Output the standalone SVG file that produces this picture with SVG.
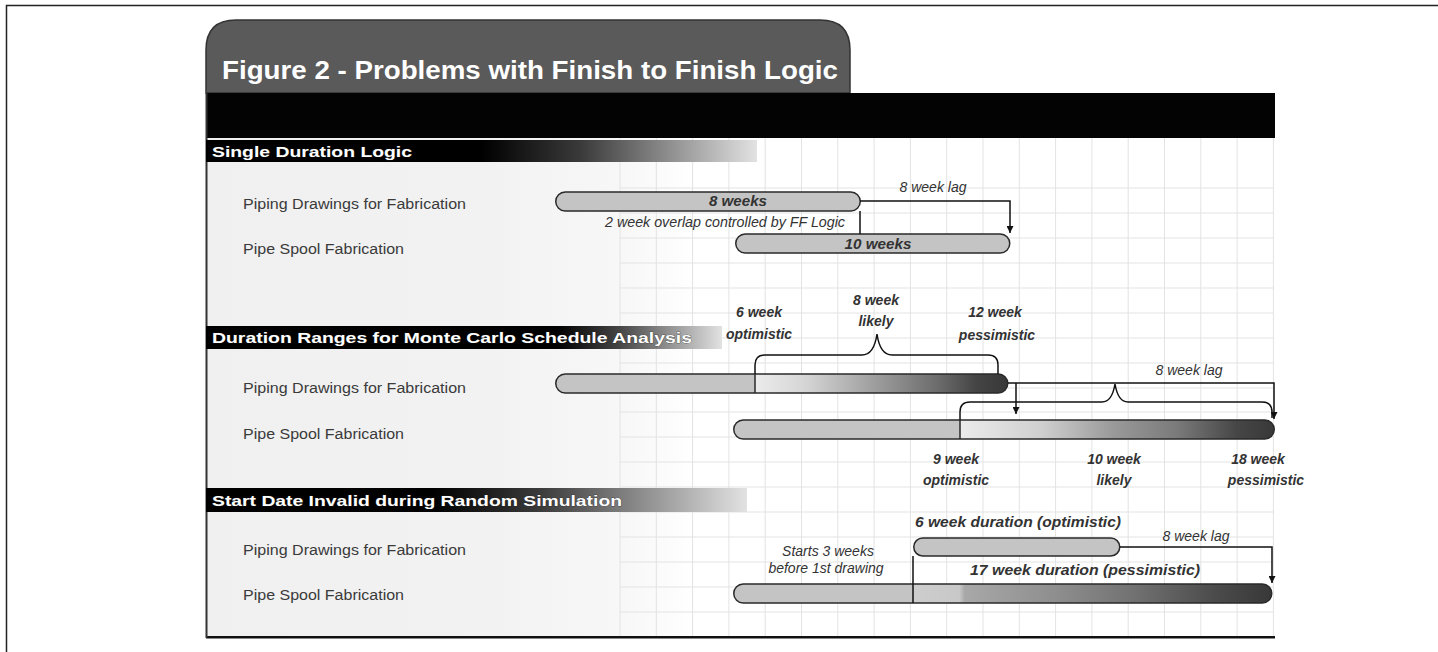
<svg xmlns="http://www.w3.org/2000/svg" width="1438" height="652" viewBox="0 0 1438 652">
<defs>
<style>
.lbl{font-family:"Liberation Sans",Arial,sans-serif;font-size:15.5px;fill:#3a3a3a}
.hdr{font-family:"Liberation Sans",Arial,sans-serif;font-size:15px;font-weight:bold;fill:#fff;stroke:#222;stroke-width:0.5;paint-order:stroke}
.it{font-family:"Liberation Sans",Arial,sans-serif;font-size:14px;font-style:italic;fill:#333;text-anchor:middle}
.bi{font-family:"Liberation Sans",Arial,sans-serif;font-size:14px;font-style:italic;font-weight:bold;fill:#333;text-anchor:middle}
.bar{stroke:#2a2a2a;stroke-width:1.5}
.con{fill:none;stroke:#111;stroke-width:1.5}
.grid{fill:none;stroke:#e3e3e3;stroke-width:1}
</style>
<linearGradient id="bg" gradientUnits="userSpaceOnUse" x1="206" y1="0" x2="1275" y2="0">
<stop offset="0" stop-color="#f0f0f0"/><stop offset="0.262" stop-color="#f2f2f2"/><stop offset="0.387" stop-color="#f7f7f7"/><stop offset="0.46" stop-color="#fff"/><stop offset="1" stop-color="#fff"/>
</linearGradient>
<linearGradient id="h1" gradientUnits="userSpaceOnUse" x1="206" y1="0" x2="757" y2="0">
<stop offset="0" stop-color="#000"/><stop offset="0.5" stop-color="#000"/><stop offset="0.68" stop-color="#3a3a3a"/><stop offset="1" stop-color="#e2e2e2"/>
</linearGradient>
<linearGradient id="h2" gradientUnits="userSpaceOnUse" x1="206" y1="0" x2="722" y2="0">
<stop offset="0" stop-color="#000"/><stop offset="0.68" stop-color="#000"/><stop offset="0.8" stop-color="#444"/><stop offset="1" stop-color="#e2e2e2"/>
</linearGradient>
<linearGradient id="h3" gradientUnits="userSpaceOnUse" x1="206" y1="0" x2="747" y2="0">
<stop offset="0" stop-color="#000"/><stop offset="0.42" stop-color="#000"/><stop offset="0.62" stop-color="#3c3c3c"/><stop offset="1" stop-color="#e2e2e2"/>
</linearGradient>
<linearGradient id="gA" gradientUnits="userSpaceOnUse" x1="555" y1="0" x2="1008" y2="0">
<stop offset="0" stop-color="#c4c4c4"/><stop offset="0.441" stop-color="#c4c4c4"/><stop offset="0.443" stop-color="#ebebeb"/><stop offset="0.55" stop-color="#d6d6d6"/><stop offset="0.7" stop-color="#a0a0a0"/><stop offset="0.85" stop-color="#6a6a6a"/><stop offset="0.93" stop-color="#444"/><stop offset="1" stop-color="#383838"/>
</linearGradient>
<linearGradient id="gB" gradientUnits="userSpaceOnUse" x1="733" y1="0" x2="1275" y2="0">
<stop offset="0" stop-color="#c4c4c4"/><stop offset="0.418" stop-color="#c4c4c4"/><stop offset="0.42" stop-color="#ebebeb"/><stop offset="0.57" stop-color="#cfcfcf"/><stop offset="0.7" stop-color="#9a9a9a"/><stop offset="0.82" stop-color="#7a7a7a"/><stop offset="0.93" stop-color="#464646"/><stop offset="1" stop-color="#383838"/>
</linearGradient>
<linearGradient id="gD" gradientUnits="userSpaceOnUse" x1="733" y1="0" x2="1272" y2="0">
<stop offset="0" stop-color="#c4c4c4"/><stop offset="0.333" stop-color="#c4c4c4"/><stop offset="0.335" stop-color="#cdcdcd"/><stop offset="0.42" stop-color="#c8c8c8"/><stop offset="0.43" stop-color="#a8a8a8"/><stop offset="0.6" stop-color="#8e8e8e"/><stop offset="0.75" stop-color="#707070"/><stop offset="0.9" stop-color="#4a4a4a"/><stop offset="1" stop-color="#383838"/>
</linearGradient>
<marker id="arr" viewBox="0 0 10 10" refX="10" refY="5" markerWidth="8" markerHeight="7" orient="auto" markerUnits="userSpaceOnUse">
<path d="M0,0 L10,5 L0,10 Z" fill="#111"/>
</marker>
<clipPath id="clipR"><rect x="0" y="0" width="1308" height="652"/></clipPath>
</defs>
<rect width="1438" height="652" fill="#fff"/>
<path d="M6.5,652 V5.5 H1438" fill="none" stroke="#222" stroke-width="1.5"/>

<g id="frame">
<path d="M206,93 V50 Q206,20 236,20 H820 Q850,20 850,50 V93 Z" fill="#5a5a5a" stroke="#333" stroke-width="1.5"/>
<text x="222" y="79" font-family="'Liberation Sans',Arial,sans-serif" font-size="26" font-weight="bold" fill="#fff" textLength="616" lengthAdjust="spacingAndGlyphs">Figure 2 - Problems with Finish to Finish Logic</text>
<rect x="206" y="93" width="1069" height="45" fill="#030303"/>
<rect x="206" y="138" width="1069" height="498" fill="url(#bg)"/>
<path class="grid" d="M620,138V636M656.3,138V636M692.6,138V636M728.9,138V636M765.2,138V636M801.5,138V636M837.8,138V636M874.1,138V636M910.4,138V636M946.7,138V636M983,138V636M1019.3,138V636M1055.6,138V636M1091.9,138V636M1128.2,138V636M1164.5,138V636M1200.8,138V636M1237.1,138V636M1273.4,138V636M620,188H1273M620,213H1273M620,238H1273M620,263H1273M620,288H1273M620,313H1273M620,338H1273M620,363H1273M620,388H1273M620,412H1273M620,437H1273M620,462H1273M620,487H1273M620,512H1273M620,537H1273M620,562H1273M620,587H1273M620,612H1273"/>
<rect x="206" y="636" width="1069" height="2.5" fill="#111"/>
<line x1="206.5" y1="93" x2="206.5" y2="638" stroke="#333" stroke-width="2"/>
</g>

<g id="section1">
<rect x="206" y="140" width="551" height="22" fill="url(#h1)"/>
<text class="hdr" x="212" y="157" textLength="200" lengthAdjust="spacingAndGlyphs">Single Duration Logic</text>
<text class="lbl" x="243" y="209" textLength="223" lengthAdjust="spacingAndGlyphs">Piping Drawings for Fabrication</text>
<text class="lbl" x="243" y="254" textLength="161" lengthAdjust="spacingAndGlyphs">Pipe Spool Fabrication</text>
</g>
<g id="bar1">
<rect class="bar" x="555.75" y="192" width="304.5" height="19" rx="9.5" fill="#c4c4c4"/>
<text class="bi" x="738" y="206" textLength="58" lengthAdjust="spacingAndGlyphs">8 weeks</text>
</g>
<g id="bar2">
<rect class="bar" x="735.75" y="234" width="274" height="19" rx="9.5" fill="#c4c4c4"/>
<text class="bi" x="878" y="249" textLength="67" lengthAdjust="spacingAndGlyphs">10 weeks</text>
</g>

<g id="section2">
<rect x="206" y="326" width="516" height="23" fill="url(#h2)"/>
<text class="hdr" x="212" y="343" textLength="480" lengthAdjust="spacingAndGlyphs">Duration Ranges for Monte Carlo Schedule Analysis</text>
<text class="lbl" x="243" y="393" textLength="223" lengthAdjust="spacingAndGlyphs">Piping Drawings for Fabrication</text>
<text class="lbl" x="243" y="439" textLength="161" lengthAdjust="spacingAndGlyphs">Pipe Spool Fabrication</text>
</g>
<g id="barA">
<rect class="bar" x="555.75" y="374" width="452" height="19" rx="9.5" fill="url(#gA)"/>
<line x1="755" y1="374" x2="755" y2="393" stroke="#2a2a2a" stroke-width="1.5"/>
</g>
<g id="barB">
<rect class="bar" x="733.75" y="420" width="540.5" height="19" rx="9.5" fill="url(#gB)"/>
<line x1="960" y1="420" x2="960" y2="439" stroke="#2a2a2a" stroke-width="1.5"/>
</g>
<g id="labels2">
<text class="bi" x="759" y="317">6 week</text>
<text class="bi" x="759" y="339">optimistic</text>
<text class="bi" x="876" y="305">8 week</text>
<text class="bi" x="876" y="326">likely</text>
<text class="bi" x="995" y="317">12 week</text>
<text class="bi" x="997" y="340">pessimistic</text>
<text class="it" x="1189" y="375">8 week lag</text>
<text class="bi" x="956" y="464">9 week</text>
<text class="bi" x="956" y="485">optimistic</text>
<text class="bi" x="1114" y="464">10 week</text>
<text class="bi" x="1114" y="485">likely</text>
<g clip-path="url(#clipR)">
<text class="bi" x="1258" y="464">18 week</text>
<text class="bi" x="1266" y="485">pessimistic</text>
</g>
</g>

<g id="section3">
<rect x="206" y="488" width="541" height="24" fill="url(#h3)"/>
<text class="hdr" x="212" y="506" textLength="410" lengthAdjust="spacingAndGlyphs">Start Date Invalid during Random Simulation</text>
<text class="lbl" x="243" y="555" textLength="223" lengthAdjust="spacingAndGlyphs">Piping Drawings for Fabrication</text>
<text class="lbl" x="243" y="600" textLength="161" lengthAdjust="spacingAndGlyphs">Pipe Spool Fabrication</text>
</g>
<g id="barC">
<rect class="bar" x="913.75" y="538" width="206" height="18" rx="9" fill="#c4c4c4"/>
</g>
<g id="barD">
<rect class="bar" x="733.75" y="584" width="538" height="19" rx="9.5" fill="url(#gD)"/>
</g>
<g id="labels3">
<text class="bi" x="1018" y="527" textLength="206" lengthAdjust="spacingAndGlyphs">6 week duration (optimistic)</text>
<text class="it" x="1196" y="541">8 week lag</text>
<text class="it" x="828" y="556">Starts 3 weeks</text>
<text class="it" x="826" y="573">before 1st drawing</text>
<text class="bi" x="1085" y="575" textLength="230" lengthAdjust="spacingAndGlyphs">17 week duration (pessimistic)</text>
</g>

<g id="connectors">
<text class="it" x="933" y="192">8 week lag</text>
<text class="it" x="725" y="227" font-size="13" textLength="240" lengthAdjust="spacingAndGlyphs">2 week overlap controlled by FF Logic</text>
<path class="con" d="M860,201 H1010 V233" marker-end="url(#arr)"/>
<path class="con" d="M860,211 V234"/>
<path class="con" d="M755,374 V365 Q755,355 765,355 H862 Q874,355 877,334 Q880,355 892,355 H988 Q998,355 998,365 V374"/>
<path class="con" d="M1008,383 H1274 V419" marker-end="url(#arr)"/>
<path class="con" d="M1016,383 V414" marker-end="url(#arr)"/>
<path class="con" d="M960,420 V412 Q960,402 970,402 H1102 Q1112,402 1115,384 Q1118,402 1128,402 H1262 Q1272,402 1272,412 V418"/>
<path class="con" d="M1120,547 H1272 V583" marker-end="url(#arr)"/>
<path class="con" d="M913,556 V603"/>
</g>
</svg>
